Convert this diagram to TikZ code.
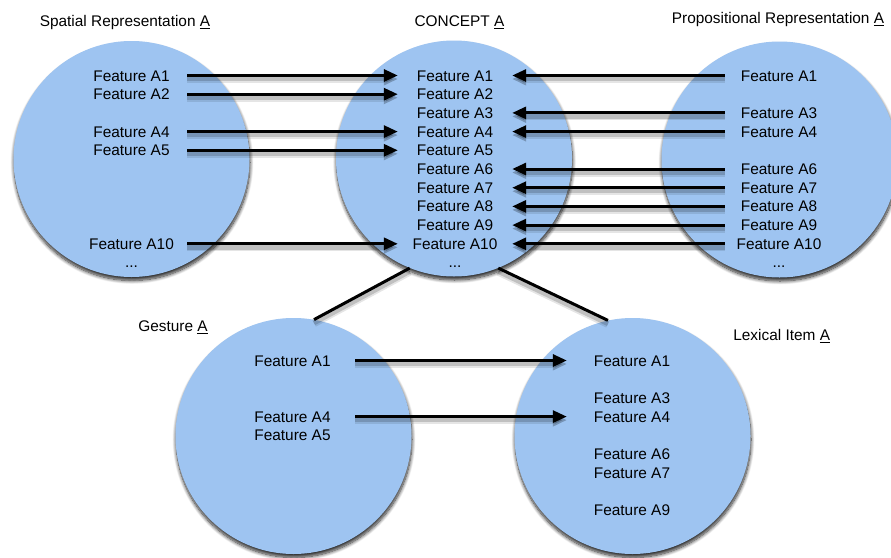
\documentclass[tikz,border=0pt]{standalone}
\usepackage{fontspec}
\setmainfont{Liberation Sans}
\usetikzlibrary{arrows.meta,shadows.blur}
\definecolor{bubblecol}{RGB}{158,196,241}
\begin{document}
\begin{tikzpicture}[x=1pt,y=-1pt,
  bubble/.style={circle, fill=bubblecol, minimum size=236pt, inner sep=0pt,
    blur shadow={shadow xshift=0.5pt, shadow yshift=-3.5pt, shadow blur radius=3.5pt,
      shadow blur steps=10, shadow opacity=85}},
  feat/.style={inner xsep=0pt, inner ysep=0pt, text height=11pt, text depth=0pt,
    anchor=base, font=\fontsize{15.4}{18}\selectfont},
  title/.style={anchor=base, inner sep=0pt, font=\fontsize{15.4}{18}\selectfont},
  % soft two-layer shadow under every connector
  link/.style={line width=3pt,
    preaction={draw=black, opacity=0.10, line width=8pt, transform canvas={yshift=-3.5pt}},
    preaction={draw=black, opacity=0.16, line width=4.5pt, transform canvas={yshift=-3.5pt}}},
  arr/.style={link, -{Triangle[length=14pt,width=12pt]}}
]
\useasboundingbox (0,0) rectangle (891,557);

% the five concept bubbles
\node[bubble] (S) at (131.5,159) {};
\node[bubble] (C) at (454,158.5) {};
\node[bubble] (P) at (779.5,159.5) {};
\node[bubble] (G) at (293.5,436) {};
\node[bubble] (L) at (632.5,436) {};

% titles
\node[title] (tS) at (125,26.5) {Spatial Representation \underline{A}};
\node[title] (tC) at (459.5,26.5) {CONCEPT \underline{A}};
\node[title] (tP) at (778,23.3) {Propositional Representation \underline{A}};
\node[title] (tG) at (173,331.7) {Gesture \underline{A}};
\node[title] (tL) at (781.7,340.7) {Lexical Item \underline{A}};

% feature lists
\foreach \i in {1,2,4,5,10}
  \node[feat, minimum width=111pt] (s\i) at (131.5,{81+18.7*(\i-1)}) {Feature A\i};
\foreach \i in {1,...,10}
  \node[feat, minimum width=114pt] (c\i) at (455,{81+18.7*(\i-1)}) {Feature A\i};
\foreach \i in {1,3,4,6,7,8,9,10}
  \node[feat, minimum width=108pt] (p\i) at (779,{81+18.7*(\i-1)}) {Feature A\i};
\foreach \i in {1,4,5}
  \node[feat, minimum width=125pt] (g\i) at (292.5,{366+18.7*(\i-1)}) {Feature A\i};
\foreach \i in {1,3,4,6,7,9}
  \node[feat, minimum width=130pt] (l\i) at (632,{366+18.7*(\i-1)}) {Feature A\i};

\node[feat] (sdots) at (131.5,267) {...};
\node[feat] (cdots) at (455,267) {...};
\node[feat] (pdots) at (779,267) {...};

% feature mappings
\foreach \i in {1,2,4,5,10}
  \draw[arr] (s\i.east) -- (c\i.west);
\foreach \i in {1,3,4,6,7,8,9,10}
  \draw[arr] (p\i.west) -- (c\i.east);
\foreach \i in {1,4}
  \draw[arr] (g\i.east) -- (l\i.west);

% links from the concept to gesture and lexical item
\draw[link] (C.248) -- (G.80);
\draw[link] (C.292) -- (L.102);
\end{tikzpicture}
\end{document}
